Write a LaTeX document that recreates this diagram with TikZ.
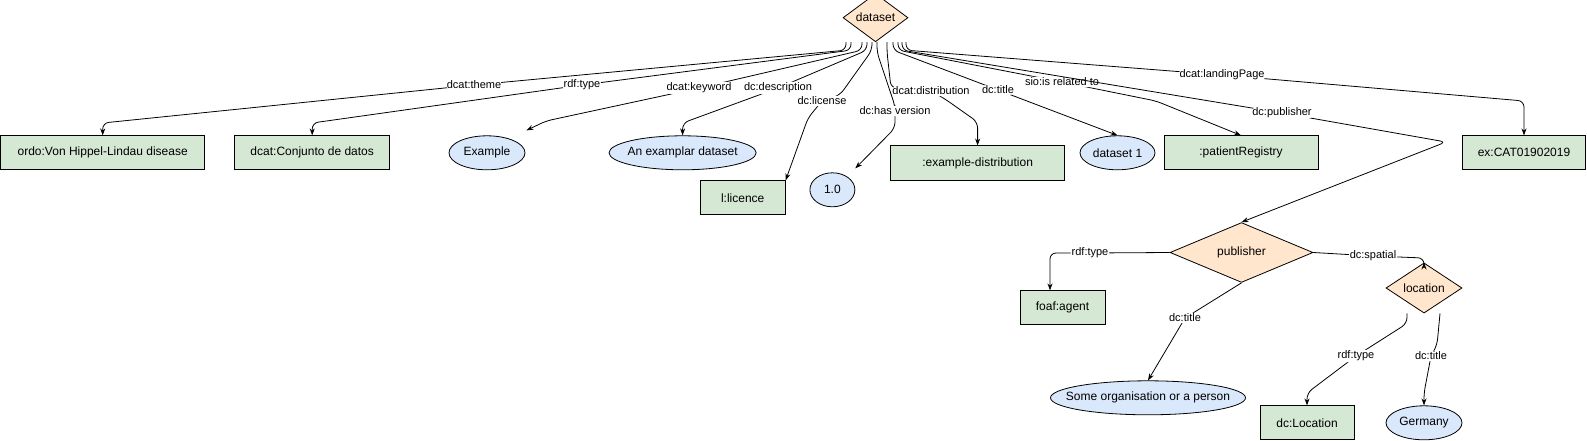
\documentclass[tikz,border=0pt]{standalone}
\usepackage{fontspec}
\setmainfont{Liberation Sans}
\usepackage{tikz}
\usetikzlibrary{positioning, arrows.meta, shapes.geometric, calc}
\usepackage{xcolor}
\definecolor{resgreen}{HTML}{D5E8D4}
\definecolor{litblue}{HTML}{DAE8FC}
\definecolor{bnodeorange}{HTML}{FFE6CC}

\begin{document}
\begin{tikzpicture}[
    x=1pt, y=-1pt,
    resource/.style={rectangle, draw=black, line width=0.8pt, fill=resgreen, minimum height=34pt, inner sep=0pt, font=\fontsize{12}{14}\selectfont},
    literal/.style={ellipse, draw=black, line width=0.8pt, fill=litblue, minimum height=34pt, inner sep=0pt, font=\fontsize{12}{14}\selectfont},
    blank/.style={diamond, draw=black, line width=0.8pt, fill=bnodeorange, inner sep=0pt, font=\fontsize{12}{14}\selectfont},
    rel/.style={-{Stealth[length=7pt, width=5pt]}, line width=0.8pt, rounded corners=6pt},
    lbl/.style={fill=white, inner sep=1pt, font=\fontsize{11}{13}\selectfont}
]
\useasboundingbox (0,0) rectangle (1587,441);

% Dataset at top
\node[blank, minimum width=65pt, minimum height=35pt] (ds) at (875.5,17.7) {dataset};

% Objects of the dataset
\node[resource, minimum width=204pt] (ordo) at (102.7,152.8) {ordo:Von Hippel-Lindau disease};
\node[resource, minimum width=155pt] (conj) at (312.2,152.8) {dcat:Conjunto de datos};
\node[literal, minimum width=76pt] (ex) at (487,152.8) {Example};
\node[literal, minimum width=145pt, inner xsep=-3pt] (desc) at (682.6,152.8) {An examplar dataset};
\node[resource, minimum width=85pt] (lic) at (742.7,197.8) {l:licence};
\node[literal, minimum width=45pt] (ver) at (832.4,189.8) {1.0};
\node[resource, minimum width=174pt] (dist) at (977.6,162.9) {:example-distribution};
\node[literal, minimum width=75pt] (dt1) at (1117.5,152.8) {dataset 1};
\node[resource, minimum width=154pt] (reg) at (1241,152.8) {:patientRegistry};
\node[resource, minimum width=123pt] (cat) at (1524,152.8) {ex:CAT01902019};

% Publisher and location
\node[blank, minimum width=143pt, minimum height=35pt] (pub) at (1241.5,252.5) {publisher};
\node[resource, minimum width=85pt] (foaf) at (1062.5,307.8) {foaf:agent};
\node[literal, minimum width=195pt, inner xsep=-18pt] (org) at (1148,397.8) {Some organisation or a person};
\node[blank, minimum width=76pt, minimum height=36pt] (loc) at (1424,288) {location};
\node[resource, minimum width=94pt] (dcl) at (1307,422.8) {dc:Location};
\node[literal, minimum width=76pt] (ger) at (1424,422.8) {Germany};

% Properties of the dataset
\draw[rel] ([xshift=-29.5pt]ds.south) -- ++(0,8) -- (474,85) node[lbl] {dcat:theme} -- (102.7,123) -- (ordo.north);
\draw[rel] ([xshift=-24.5pt]ds.south) -- ++(0,8) -- (582,85) node[lbl] {rdf:type} -- (312.2,123) -- (conj.north);
\draw[rel] ([xshift=-13.5pt]ds.south) -- ++(0,8) -- (699,88) node[lbl] {dcat:keyword} -- (546,121) -- ([xshift=1pt, yshift=5pt]ex.east |- ex.north);
\draw[rel] ([xshift=-8.5pt]ds.south) -- ++(0,8) -- (778,88) node[lbl] {dc:description} -- (682.6,123) -- (desc.north);
\draw[rel] ([xshift=-3.5pt]ds.south) -- ++(0,8) -- (840,95) -- (822,101) node[lbl] {dc:license} -- (808,118) -- (lic.north east);
\draw[rel] ([xshift=1.5pt]ds.south) -- ++(0,10) -- (895,106) -- (895,111) node[lbl] {dc:has version} -- (895,128) -- ([yshift=4pt]ver.east |- ver.north);
\draw[rel] ([xshift=11.5pt]ds.south) -- ++(0,10) -- (891,88) -- (931,91) node[lbl] {dcat:distribution} -- (945,99) -- (977.6,122) -- (dist.north);
\draw[rel] ([xshift=17.5pt]ds.south) -- ++(0,8) -- (998,90) node[lbl] {dc:title} -- (dt1.north);
\draw[rel] ([xshift=22.5pt]ds.south) -- ++(0,8) -- (1062,82) node[lbl] {sio:is related to} -- (1156,101) -- (reg.north);
\draw[rel] ([xshift=26.5pt]ds.south) -- ++(0,8) -- (1282,113) node[lbl] {dc:publisher} -- (1446,142) -- (pub.north);
\draw[rel] ([xshift=30.5pt]ds.south) -- ++(0,8) -- (1222,75) node[lbl] {dcat:landingPage} -- (1524,101) -- (cat.north);

% Properties of the publisher
\draw[rel] (pub.west) -- (1090,253) node[lbl] {rdf:type} -- (1050,253) -- ([xshift=-12.5pt]foaf.north);
\draw[rel] (pub.east) -- (1373,256) node[lbl] {dc:spatial} -- (1424,258) -- (loc.north);
\draw[rel] (pub.south) -- (1185,318) node[lbl] {dc:title} -- (org.north);

% Properties of the location
\draw[rel] ([xshift=-17pt]loc.south) -- ++(0,10) -- (1356,356) node[lbl] {rdf:type} -- (1307,393) -- (dcl.north);
\draw[rel] ([xshift=16pt]loc.south) -- (1437,345) -- (1431,356) node[lbl] {dc:title} -- (1424,393) -- (ger.north);
\end{tikzpicture}
\end{document}
